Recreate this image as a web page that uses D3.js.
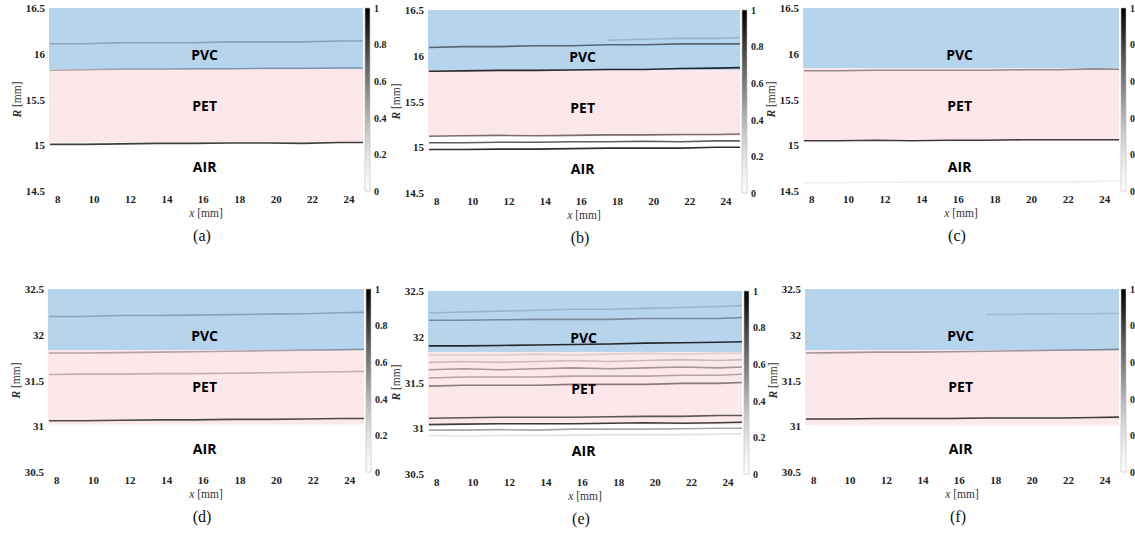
<!DOCTYPE html>
<html>
<head>
<meta charset="utf-8">
<script src="https://cdn.jsdelivr.net/npm/d3@7"></script>
<style>
  body { margin: 0; background: #fff; }
  svg { display: block; }
</style>
</head>
<body>
<div id="plot"></div>
<script>
// figure data
const captions = ["(a)", "(b)", "(c)", "(d)", "(e)", "(f)"];
const xDomain = [7.55, 24.8];
const xTicks = [8, 10, 12, 14, 16, 18, 20, 22, 24];
const rDomainTop = [14.5, 16.5];
const rDomainBottom = [30.5, 32.5];
const rTicksTop = [14.5, 15, 15.5, 16, 16.5];
const rTicksBottom = [30.5, 31, 31.5, 32, 32.5];
const cbTicks = [0, 0.2, 0.4, 0.6, 0.8, 1];
const regionNames = ["PVC", "PET", "AIR"];
const labelXmm = 16.1;
const labelRTop = [15.99, 15.43, 14.76];
const labelRBottom = [31.98, 31.43, 30.75];

// sample positions along x for the interface traces
const sampleX = [7.6, 9.5, 11.5, 13.5, 15.5, 17.5, 19.5, 21.5, 23.5, 24.8];

// PVC and PET bands [upper R, lower R] per panel
const pvcBands = [[16.5, 15.83], [16.5, 15.84], [16.5, 15.84], [32.5, 31.83], [32.5, 31.83], [32.5, 31.83]];
const petBands = [[15.83, 15.03], [15.84, 15.12], [15.84, 15.05], [31.83, 31.02], [31.83, 31.04], [31.83, 31.01]];

// interface traces per panel: R at sampleX, v = colorbar value
const tracesA = [
  { v: 0.35, r: [16.11, 16.11, 16.12, 16.12, 16.12, 16.13, 16.13, 16.13, 16.14, 16.14] },
  { v: 0.4, r: [15.82, 15.825, 15.83, 15.83, 15.835, 15.835, 15.84, 15.84, 15.845, 15.845] },
  { v: 0.8, r: [15.01, 15.01, 15.015, 15.02, 15.02, 15.025, 15.025, 15.02, 15.03, 15.03] }
];
const tracesB = [
  { v: 0.25, r: [null, null, null, null, null, 16.17, 16.18, 16.19, 16.19, 16.2] },
  { v: 0.6, r: [16.09, 16.1, 16.1, 16.11, 16.11, 16.12, 16.12, 16.13, 16.13, 16.13] },
  { v: 0.85, r: [15.83, 15.835, 15.84, 15.84, 15.845, 15.85, 15.85, 15.86, 15.865, 15.87] },
  { v: 0.6, r: [15.12, 15.125, 15.13, 15.125, 15.13, 15.135, 15.135, 15.14, 15.14, 15.145] },
  { v: 0.7, r: [15.05, 15.05, 15.055, 15.055, 15.06, 15.06, 15.065, 15.06, 15.07, 15.07] },
  { v: 0.85, r: [14.975, 14.975, 14.98, 14.98, 14.985, 14.99, 14.99, 14.99, 15.0, 15.0] }
];
const tracesC = [
  { v: 0.5, r: [15.815, 15.815, 15.82, 15.82, 15.82, 15.82, 15.825, 15.825, 15.835, 15.83] },
  { v: 0.8, r: [15.05, 15.05, 15.055, 15.05, 15.055, 15.055, 15.06, 15.06, 15.06, 15.06] },
  { v: 0.12, r: [14.59, 14.59, 14.595, 14.6, 14.6, 14.6, 14.6, 14.6, 14.605, 14.61] }
];
const tracesD = [
  { v: 0.35, r: [32.2, 32.2, 32.21, 32.21, 32.215, 32.22, 32.225, 32.23, 32.24, 32.245] },
  { v: 0.4, r: [31.8, 31.8, 31.805, 31.81, 31.815, 31.82, 31.825, 31.83, 31.835, 31.84] },
  { v: 0.35, r: [31.565, 31.57, 31.57, 31.575, 31.575, 31.58, 31.585, 31.59, 31.595, 31.6] },
  { v: 0.75, r: [31.06, 31.06, 31.065, 31.07, 31.07, 31.075, 31.075, 31.08, 31.085, 31.085] }
];
const tracesE = [
  { v: 0.25, r: [32.26, 32.27, 32.28, 32.29, 32.3, 32.3, 32.31, 32.32, 32.33, 32.34] },
  { v: 0.45, r: [32.18, 32.18, 32.185, 32.19, 32.19, 32.19, 32.2, 32.2, 32.2, 32.21] },
  { v: 0.85, r: [31.9, 31.9, 31.905, 31.91, 31.915, 31.92, 31.93, 31.935, 31.94, 31.945] },
  { v: 0.2, r: [31.8, 31.8, 31.8, 31.81, 31.8, 31.81, 31.82, 31.81, 31.82, 31.82] },
  { v: 0.3, r: [31.72, 31.73, 31.72, 31.73, 31.74, 31.73, 31.74, 31.75, 31.74, 31.75] },
  { v: 0.45, r: [31.64, 31.65, 31.64, 31.65, 31.66, 31.65, 31.66, 31.67, 31.66, 31.67] },
  { v: 0.4, r: [31.55, 31.56, 31.56, 31.56, 31.57, 31.57, 31.57, 31.58, 31.58, 31.59] },
  { v: 0.55, r: [31.46, 31.47, 31.47, 31.47, 31.48, 31.48, 31.48, 31.49, 31.49, 31.5] },
  { v: 0.7, r: [31.11, 31.115, 31.12, 31.12, 31.12, 31.125, 31.13, 31.13, 31.14, 31.14] },
  { v: 0.8, r: [31.04, 31.045, 31.05, 31.05, 31.05, 31.055, 31.06, 31.055, 31.06, 31.065] },
  { v: 0.45, r: [30.98, 30.98, 30.985, 30.98, 30.99, 30.99, 30.99, 30.995, 31.0, 31.0] },
  { v: 0.2, r: [30.92, 30.915, 30.92, 30.92, 30.925, 30.93, 30.93, 30.93, 30.935, 30.94] }
];
const tracesF = [
  { v: 0.2, r: [null, null, null, null, null, 32.22, 32.225, 32.23, 32.23, 32.235] },
  { v: 0.45, r: [31.8, 31.805, 31.81, 31.81, 31.815, 31.82, 31.825, 31.83, 31.835, 31.84] },
  { v: 0.8, r: [31.08, 31.08, 31.085, 31.085, 31.085, 31.09, 31.09, 31.09, 31.095, 31.1] }
];
const allTraces = [tracesA, tracesB, tracesC, tracesD, tracesE, tracesF];

// layout (pixels)
const width = 1135, height = 538;
const panelLeft = [49, 428, 803, 48, 428, 805];
const panelTop = [8, 10, 8, 289, 291, 289];
const panelWidth = [314, 312, 316, 316, 314, 314];
const panelHeight = 183;
const blue = "#b7d4ed", pink = "#fce8ea";
const serif = "'Liberation Serif', 'Times New Roman', serif";

const svg = d3.select("#plot").append("svg")
    .attr("width", width)
    .attr("height", height);

const defs = svg.append("defs");
const grad = defs.append("linearGradient")
    .attr("id", "cb-grad")
    .attr("x1", "0%").attr("y1", "100%")
    .attr("x2", "0%").attr("y2", "0%");
d3.range(0, 1.01, 0.1).forEach(t => {
    grad.append("stop")
        .attr("offset", (t * 100) + "%")
        .attr("stop-color", d3.interpolateGreys(t));
});

captions.forEach((cap, i) => {
    const top = i < 3;
    const left = panelLeft[i], ptop = panelTop[i], w = panelWidth[i], h = panelHeight;

    const x = d3.scaleLinear().domain(xDomain).range([0, w]);
    const y = d3.scaleLinear().domain(top ? rDomainTop : rDomainBottom).range([h, 0]);
    const cb = d3.scaleLinear().domain([0, 1]).range([h, 0]);

    const g = svg.append("g").attr("transform", `translate(${left},${ptop})`);

    defs.append("clipPath").attr("id", "clip" + i)
        .append("rect").attr("width", w).attr("height", h);

    const plot = g.append("g").attr("clip-path", `url(#clip${i})`).style("isolation", "isolate");

    plot.append("rect")
        .attr("width", w).attr("height", h)
        .attr("fill", "#fff");

    // material bands
    [[pvcBands[i], blue], [petBands[i], pink]].forEach(([b, col]) => {
        plot.append("rect")
            .attr("x", 0)
            .attr("y", y(b[0]))
            .attr("width", w)
            .attr("height", y(b[1]) - y(b[0]))
            .attr("fill", col);
    });

    // interface traces
    const line = d3.line()
        .defined(d => d[1] !== null)
        .x(d => x(d[0]))
        .y(d => y(d[1]));

    plot.selectAll("path.trace")
        .data(allTraces[i])
        .enter().append("path")
        .attr("class", "trace")
        .attr("d", d => line(sampleX.map((sx, k) => [sx, d.r[k]])))
        .attr("fill", "none")
        .attr("stroke", d => d3.interpolateGreys(d.v))
        .attr("stroke-width", 1.6)
        .style("mix-blend-mode", "multiply");

    // region labels
    const lr = top ? labelRTop : labelRBottom;
    regionNames.forEach((name, k) => {
        g.append("text")
            .attr("x", x(labelXmm))
            .attr("y", y(lr[k]))
            .attr("dy", "0.35em")
            .attr("text-anchor", "middle")
            .style("font-family", "'Open Sans', sans-serif")
            .style("font-weight", "bold")
            .style("font-size", "14px")
            .text(name);
    });

    // axes
    const yAxis = g.append("g")
        .call(d3.axisLeft(y).tickValues(top ? rTicksTop : rTicksBottom).tickSize(0).tickPadding(4).tickFormat(d => String(d)));
    const xAxis = g.append("g")
        .attr("transform", `translate(0,${h})`)
        .call(d3.axisBottom(x).tickValues(xTicks).tickSize(0).tickPadding(4).tickFormat(d => String(d)));
    [yAxis, xAxis].forEach(a => {
        a.select(".domain").remove();
        a.selectAll("text")
            .style("font-family", serif)
            .style("font-weight", "bold")
            .style("font-size", "11px")
            .attr("fill", "#222");
    });

    // axis titles
    const xt = g.append("text")
        .attr("x", w / 2)
        .attr("y", h + 26)
        .attr("text-anchor", "middle")
        .style("font-family", serif)
        .style("font-size", "11.5px")
        .attr("fill", "#333");
    xt.append("tspan").style("font-style", "italic").text("x");
    xt.append("tspan").text(" [mm]");

    const yt = g.append("text")
        .attr("transform", `translate(-28,${h / 2}) rotate(-90)`)
        .attr("text-anchor", "middle")
        .style("font-family", serif)
        .style("font-size", "11.5px")
        .attr("fill", "#333");
    yt.append("tspan").style("font-style", "italic").style("font-weight", "bold").text("R");
    yt.append("tspan").text(" [mm]");

    // colorbar
    const cbg = g.append("g").attr("transform", `translate(${w + 2},0)`);
    cbg.append("rect")
        .attr("width", 5).attr("height", h)
        .attr("fill", "url(#cb-grad)")
        .attr("stroke", "#bbb")
        .attr("stroke-width", 0.6);
    const cbAxis = cbg.append("g")
        .attr("transform", "translate(5,0)")
        .call(d3.axisRight(cb).tickValues(cbTicks).tickSize(0).tickPadding(4).tickFormat(d => String(d)));
    cbAxis.select(".domain").remove();
    cbAxis.selectAll("text")
        .style("font-family", serif)
        .style("font-weight", "bold")
        .style("font-size", "10px")
        .attr("fill", "#222");

    // caption
    g.append("text")
        .attr("x", w / 2 - 4)
        .attr("y", h + 50)
        .attr("text-anchor", "middle")
        .style("font-family", serif)
        .style("font-size", "16px")
        .attr("fill", "#111")
        .text(cap);
});
</script>
</body>
</html>
